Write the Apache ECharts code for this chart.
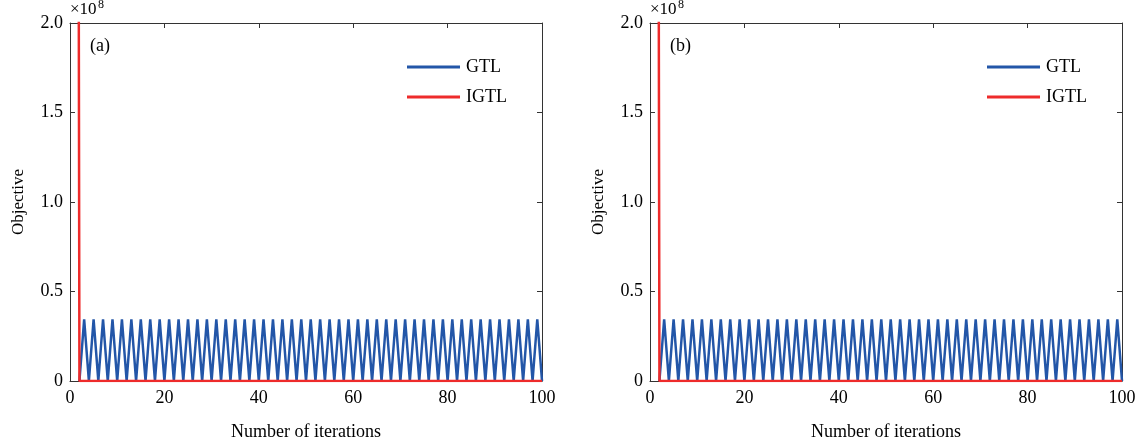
<!DOCTYPE html>
<html><head><meta charset="utf-8">
<script src="https://cdn.jsdelivr.net/npm/echarts@6/dist/echarts.min.js"></script>
<style>html,body{margin:0;padding:0;background:#fff}#c{width:1141px;height:446px}</style>
</head><body><div id="c"></div>
<script>
// iterations 1..100 ; values in units of 1e8
const iterations = Array.from({length: 100}, (_, i) => i + 1);
const xTicks = [0, 20, 40, 60, 80, 100];
const yTicks = [0, 0.5, 1.0, 1.5, 2.0];
const gtlA = [null, 0,
  0.345,0, 0.345,0, 0.345,0, 0.345,0, 0.345,0, 0.345,0, 0.345,0,
  0.345,0, 0.345,0, 0.345,0, 0.345,0, 0.345,0, 0.345,0, 0.345,0,
  0.345,0, 0.345,0, 0.345,0, 0.345,0, 0.345,0, 0.345,0, 0.345,0,
  0.345,0, 0.345,0, 0.345,0, 0.345,0, 0.345,0, 0.345,0, 0.345,0,
  0.345,0, 0.345,0, 0.345,0, 0.345,0, 0.345,0, 0.345,0, 0.345,0,
  0.345,0, 0.345,0, 0.345,0, 0.345,0, 0.345,0, 0.345,0, 0.345,0,
  0.345,0, 0.345,0, 0.345,0, 0.345,0, 0.345,0, 0.345,0, 0.345,0];
const igtlA = [15,0,0,0,0,0,0,0,0,0,
  0,0,0,0,0,0,0,0,0,0, 0,0,0,0,0,0,0,0,0,0, 0,0,0,0,0,0,0,0,0,0,
  0,0,0,0,0,0,0,0,0,0, 0,0,0,0,0,0,0,0,0,0, 0,0,0,0,0,0,0,0,0,0,
  0,0,0,0,0,0,0,0,0,0, 0,0,0,0,0,0,0,0,0,0, 0,0,0,0,0,0,0,0,0,0];
const gtlB = gtlA.slice();
const igtlB = igtlA.slice();
const panelLabels = ['(a)', '(b)'];
const seriesNames = ['GTL', 'IGTL'];
const colors = ['#2356a8', '#ee2b2b'];

const font = 'Liberation Serif';
const axisColor = '#333';
const lefts = [70, 650];
const W = 472, H = 359, T = 23;

function pairs(arr) { return iterations.map((x, i) => [x, arr[i]]); }

const grids = [], xAxes = [], yAxes = [], series = [], legends = [], graphics = [];
const sets = [[gtlA, igtlA], [gtlB, igtlB]];
lefts.forEach((L, g) => {
  grids.push({left: L, top: T, width: W, height: H});
  const baseX = {gridIndex: g, type: 'value', min: 0, max: 100, interval: 20,
    axisLine: {show: true, onZero: false, lineStyle: {color: axisColor, width: 1}},
    axisTick: {show: true, inside: true, length: 5, lineStyle: {color: axisColor}},
    splitLine: {show: false}};
  xAxes.push(Object.assign({}, baseX, {position: 'bottom',
    name: 'Number of iterations', nameLocation: 'middle', nameGap: 42,
    nameTextStyle: {fontFamily: font, fontSize: 18, color: '#000'},
    axisLabel: {fontFamily: font, fontSize: 18, color: '#000', margin: 8}}));
  xAxes.push(Object.assign({}, baseX, {position: 'top', axisLabel: {show: false}}));
  const baseY = {gridIndex: g, type: 'value', min: 0, max: 2, interval: 0.5,
    axisLine: {show: true, onZero: false, lineStyle: {color: axisColor, width: 1}},
    axisTick: {show: true, inside: true, length: 5, lineStyle: {color: axisColor}},
    splitLine: {show: false}};
  yAxes.push(Object.assign({}, baseY, {position: 'left',
    name: 'Objective', nameLocation: 'middle', nameGap: 43, nameRotate: 90,
    nameTextStyle: {fontFamily: font, fontSize: 17, color: '#000'},
    axisLabel: {fontFamily: font, fontSize: 18, color: '#000', margin: 7,
      formatter: v => v === 0 ? '0' : v.toFixed(1)}}));
  yAxes.push(Object.assign({}, baseY, {position: 'right', axisLabel: {show: false}}));
  sets[g].forEach((arr, k) => {
    series.push({type: 'line', name: seriesNames[k], xAxisIndex: g * 2, yAxisIndex: g * 2,
      data: pairs(arr), showSymbol: false, symbol: 'none', clip: true, connectNulls: false,
      lineStyle: {color: colors[k], width: 2.5}, itemStyle: {color: colors[k]},
      animation: false, z: 2 + k});
  });
  legends.push({data: seriesNames, orient: 'vertical', left: L + 332, top: 53,
    icon: 'rect', itemWidth: 53, itemHeight: 3, itemGap: 12,
    textStyle: {fontFamily: font, fontSize: 18, color: '#000', padding: [0, 0, 0, 1]},
    selectedMode: false});
  graphics.push({type: 'text', left: L + 20, top: 37,
    style: {text: panelLabels[g], fontFamily: font, fontSize: 18, fill: '#000'}});
  graphics.push({type: 'text', left: L, top: 1,
    style: {text: '×10', fontFamily: font, fontSize: 17, fill: '#000'}});
  graphics.push({type: 'text', left: L + 28, top: -1,
    style: {text: '8', fontFamily: font, fontSize: 12, fill: '#000'}});
});

const chart = echarts.init(document.getElementById('c'), null, {renderer: 'canvas'});
chart.setOption({animation: false, color: colors, grid: grids, xAxis: xAxes, yAxis: yAxes,
  series: series, legend: legends, graphic: graphics});
</script></body></html>
